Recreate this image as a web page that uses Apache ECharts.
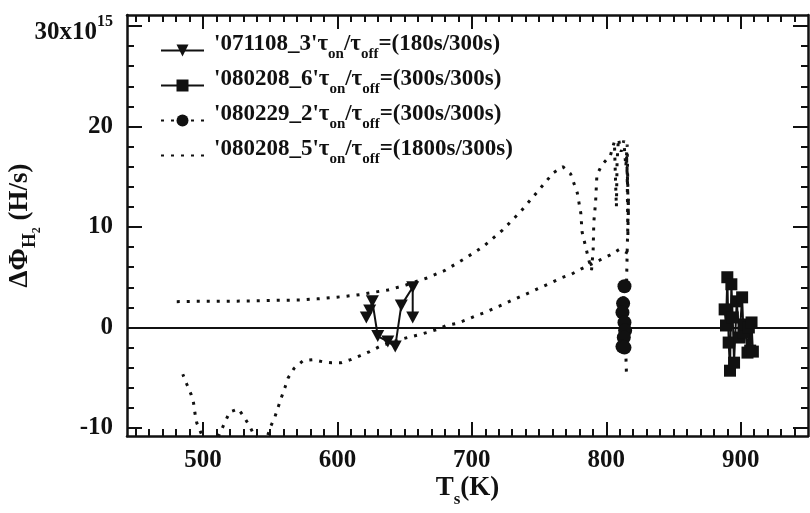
<!DOCTYPE html>
<html><head><meta charset="utf-8">
<script src="https://cdn.jsdelivr.net/npm/echarts@6/dist/echarts.min.js"></script>
<style>html,body{margin:0;padding:0;background:#fff}#c{width:810px;height:513px}</style>
</head><body><div id="c"></div>
<script>
// ---- data ----
const seriesNames = ["'071108_3'", "'080208_6'", "'080229_2'", "'080208_5'"];
const seriesRatios = ["(180s/300s)", "(300s/300s)", "(300s/300s)", "(1800s/300s)"];

// '071108_3' (triangles, solid)
const s1T = [621.5, 624, 626, 630, 637.5, 643, 647.5, 656, 656];
const s1Y = [1.0, 1.7, 2.6, -0.85, -1.4, -1.9, 2.2, 4.0, 1.0];

// '080208_6' (squares, solid)
const s2T = [888, 889, 890, 891, 892, 893, 894, 895, 897, 899, 901, 902, 903, 905, 906, 907, 908, 909];
const s2Y = [1.8, 0.2, 5.0, -1.5, -4.3, 4.3, 1.0, -3.5, 2.6, -1.0, 3.0, -0.5, 0.3, -2.5, 0.0, -2.3, 0.5, -2.4];

// '080229_2' (circles, dotted)
const s3T = [813.5, 812.5, 812, 813.5, 814, 813, 812, 813.5];
const s3Y = [4.1, 2.4, 1.5, 0.5, -0.3, -1.0, -1.9, -2.0];

// '080208_5' (dotted, no markers) - upper branch + cluster + spur
const s4UpperT = [480.5, 495, 510, 525, 540, 555, 573, 585, 595.5, 606, 616.5, 630, 637.5, 645, 651, 666, 679.5, 694, 708, 722.8, 736, 748.7, 760.6, 767.7, 773.4, 778.4, 781, 782, 783.8, 787, 789, 790.2, 790.7, 792, 793, 796.8, 803,
  806, 807, 807.5, 808, 809, 811, 813, 814.5, 815.5, 816, 815, 816.5, 815.5, 816, 816.5, 815.5, 815, 814.5, 814.5, 815];
const s4UpperY = [2.57, 2.6, 2.6, 2.62, 2.65, 2.7, 2.74, 2.85, 2.97, 3.1, 3.27, 3.57, 3.73, 4.0, 4.23, 4.9, 5.65, 6.8, 8.0, 9.7, 11.5, 13.5, 15.4, 16.0, 15.3, 13.4, 11.4, 9.5, 8.5, 6.7, 5.7, 7.7, 10.5, 12.4, 15.2, 16.2, 17.1,
  18.5, 14, 12, 16.5, 18.8, 17.5, 18.6, 16, 18.2, 14, 17.2, 11, 15.5, 9, 13, 7.5, 4, 0.5, -2.5, -4.8];
// lower branch
const s4LowerT = [816, 810, 802.6, 795, 781, 774, 767, 759.8, 752.4, 745.5, 738.3, 731.4, 724, 717, 710, 702.5, 695.6, 688.7, 681, 674, 666.6, 659.7, 645, 631.3, 624, 617, 609.8, 603, 595.5, 588.6, 582, 574.5, 567.8, 563.4, 560.9, 558.4, 556, 553.5, 550.5, 547, 541, 535, 531, 526.3, 520, 516.4, 510, 502, 495.4, 494, 493, 491, 488, 485];
const s4LowerY = [7.4, 7.8, 7.2, 6.7, 5.8, 5.3, 4.96, 4.5, 4.06, 3.63, 3.2, 2.8, 2.34, 1.94, 1.5, 1.14, 0.75, 0.4, 0.2, -0.2, -0.5, -0.75, -1.24, -1.9, -2.4, -2.8, -3.2, -3.5, -3.5, -3.4, -3.2, -3.3, -4.06, -5.0, -6.0, -6.95, -7.9, -8.9, -9.8, -11.2, -11.5, -9.9, -9.0, -8.1, -8.4, -9.4, -11.3, -11.6, -9.5, -8.5, -7.5, -6.6, -5.65, -4.66];

// ticks
const xMajor = [500, 600, 700, 800, 900];
const xMinor = [450, 460, 470, 480, 490, 510, 520, 530, 540, 550, 560, 570, 580, 590, 610, 620, 630, 640, 650, 660, 670, 680, 690,
  710, 720, 730, 740, 750, 760, 770, 780, 790, 810, 820, 830, 840, 850, 860, 870, 880, 890, 910, 920, 930, 940];
const yMajor = [-10, 0, 10, 20, 30];
const yMinor = [-8, -6, -4, -2, 2, 4, 6, 8, 12, 14, 16, 18, 22, 24, 26, 28];
const X_MIN = 443.5, X_MAX = 950, Y_MIN = -10.8, Y_MAX = 31.1;

// ---- chart ----
const FONT = "'Liberation Serif', 'Times New Roman', serif";
const INK = '#111';
function pairs(xs, ys) { return xs.map((x, i) => [x, ys[i]]); }

function mkAxis(isX, position, vals, len, withLine, withLabel) {
  const a = {
    type: 'value', position, gridIndex: 0, offset: 0,
    min: isX ? X_MIN : Y_MIN, max: isX ? X_MAX : Y_MAX,
    splitLine: { show: false },
    axisLine: { show: withLine, onZero: false, lineStyle: { color: INK, width: 2.5 } },
    axisTick: { show: true, inside: true, length: len, customValues: vals, lineStyle: { color: INK, width: 2 } },
    axisLabel: { show: false }
  };
  if (withLabel) {
    a.axisLabel = {
      show: true, customValues: vals, color: INK,
      fontFamily: FONT, fontWeight: 'bold', fontSize: 25,
      margin: isX ? 12 : 14
    };
  }
  return a;
}

const xBottom = mkAxis(true, 'bottom', xMajor, 14, true, true);
xBottom.name = '{n|T}{s|s}{n|(K)}';
xBottom.nameLocation = 'middle';
xBottom.nameGap = 45;
xBottom.nameMoveOverlap = false;
xBottom.nameTextStyle = {
  rich: {
    n: { fontFamily: FONT, fontWeight: 'bold', fontSize: 27, color: INK, lineHeight: 27, padding: [0, 0, 6, 0], verticalAlign: 'bottom' },
    s: { fontFamily: FONT, fontWeight: 'bold', fontSize: 17, color: INK, lineHeight: 17, verticalAlign: 'bottom' }
  }
};

const yLeft = mkAxis(false, 'left', yMajor, 15, true, true);
yLeft.axisLabel.formatter = v => (v === 30 ? '{b|30x10}{sup|15}' : '' + v);
yLeft.axisLabel.rich = {
  b: { fontFamily: FONT, fontWeight: 'bold', fontSize: 25, color: INK, lineHeight: 25, padding: [6, 0, 0, 0], verticalAlign: 'top' },
  sup: { fontFamily: FONT, fontWeight: 'bold', fontSize: 16, color: INK, lineHeight: 16, verticalAlign: 'top' }
};
yLeft.name = '{n|ΔΦ}{sub|H}{sub2|2}{n| (H/s)}';
yLeft.nameLocation = 'middle';
yLeft.nameGap = 84;
yLeft.nameMoveOverlap = false;
yLeft.nameTextStyle = {
  rich: {
    n: { fontFamily: FONT, fontWeight: 'bold', fontSize: 27, color: INK, lineHeight: 27, padding: [0, 0, 9, 0], verticalAlign: 'bottom' },
    sub: { fontFamily: FONT, fontWeight: 'bold', fontSize: 19, color: INK, lineHeight: 19, padding: [0, 0, 3, 0], verticalAlign: 'bottom' },
    sub2: { fontFamily: FONT, fontWeight: 'bold', fontSize: 12, color: INK, lineHeight: 12, verticalAlign: 'bottom' }
  }
};

const xAxes = [
  xBottom,
  mkAxis(true, 'bottom', xMinor, 7, false, false),
  mkAxis(true, 'top', xMajor, 14, true, false),
  mkAxis(true, 'top', xMinor, 7, false, false)
];
const yAxes = [
  yLeft,
  mkAxis(false, 'left', yMinor, 7, false, false),
  mkAxis(false, 'right', yMajor, 15, true, false),
  mkAxis(false, 'right', yMinor, 7, false, false)
];

const DOT = [3, 7];
const ratioOf = {};
seriesNames.forEach((n, i) => { ratioOf[n] = seriesRatios[i]; });
const legendData = seriesNames.map((n, i) => (i === 3
  ? { name: n, itemStyle: { color: 'rgba(0,0,0,0)', borderWidth: 0, opacity: 0 } }
  : { name: n }));

const s4Data = pairs(s4UpperT, s4UpperY).concat([[816, '-']]).concat(pairs(s4LowerT, s4LowerY));

const option = {
  animation: false,
  backgroundColor: '#fff',
  grid: { left: 127, right: 2, top: 15, bottom: 77, containLabel: false, outerBoundsMode: 'none' },
  xAxis: xAxes,
  yAxis: yAxes,
  legend: {
    data: legendData,
    orient: 'vertical',
    left: 155, top: 28,
    itemWidth: 43, itemHeight: 15, itemGap: 6,
    selectedMode: false,
    formatter: n => '{m|' + n + 'τ}{sub|on}{m|/τ}{sub|off}{m|=' + ratioOf[n] + '}',
    textStyle: {
      padding: [0, 0, 0, 5],
      rich: {
        m: { fontFamily: FONT, fontWeight: 'bold', fontSize: 23, color: INK, lineHeight: 23, padding: [0, 0, 6, 0], verticalAlign: 'bottom' },
        sub: { fontFamily: FONT, fontWeight: 'bold', fontSize: 15, color: INK, lineHeight: 15, verticalAlign: 'bottom' }
      }
    }
  },
  series: [
    {
      name: seriesNames[0], type: 'line', data: pairs(s1T, s1Y),
      symbol: 'path://M0,0L10,0L5,9Z', symbolSize: [13, 12],
      itemStyle: { color: INK }, lineStyle: { color: INK, width: 2 },
      emphasis: { disabled: true }, z: 5,
      markLine: {
        silent: true, symbol: ['none', 'none'], label: { show: false },
        lineStyle: { color: INK, width: 2, type: 'solid' },
        data: [{ yAxis: 0 }]
      }
    },
    {
      name: seriesNames[1], type: 'line', data: pairs(s2T, s2Y),
      symbol: 'rect', symbolSize: 12,
      itemStyle: { color: INK }, lineStyle: { color: INK, width: 2 },
      emphasis: { disabled: true }, z: 5
    },
    {
      name: seriesNames[2], type: 'line', data: pairs(s3T, s3Y),
      symbol: 'circle', symbolSize: 14,
      itemStyle: { color: INK }, lineStyle: { color: INK, width: 3, type: DOT },
      emphasis: { disabled: true }, z: 5
    },
    {
      name: seriesNames[3], type: 'line', data: s4Data,
      symbol: 'none', connectNulls: false,
      itemStyle: { color: INK }, lineStyle: { color: INK, width: 3, type: DOT },
      emphasis: { disabled: true }, z: 4
    }
  ]
};

const chart = echarts.init(document.getElementById('c'), null, { renderer: 'canvas' });
chart.setOption(option);
</script>
</body></html>
